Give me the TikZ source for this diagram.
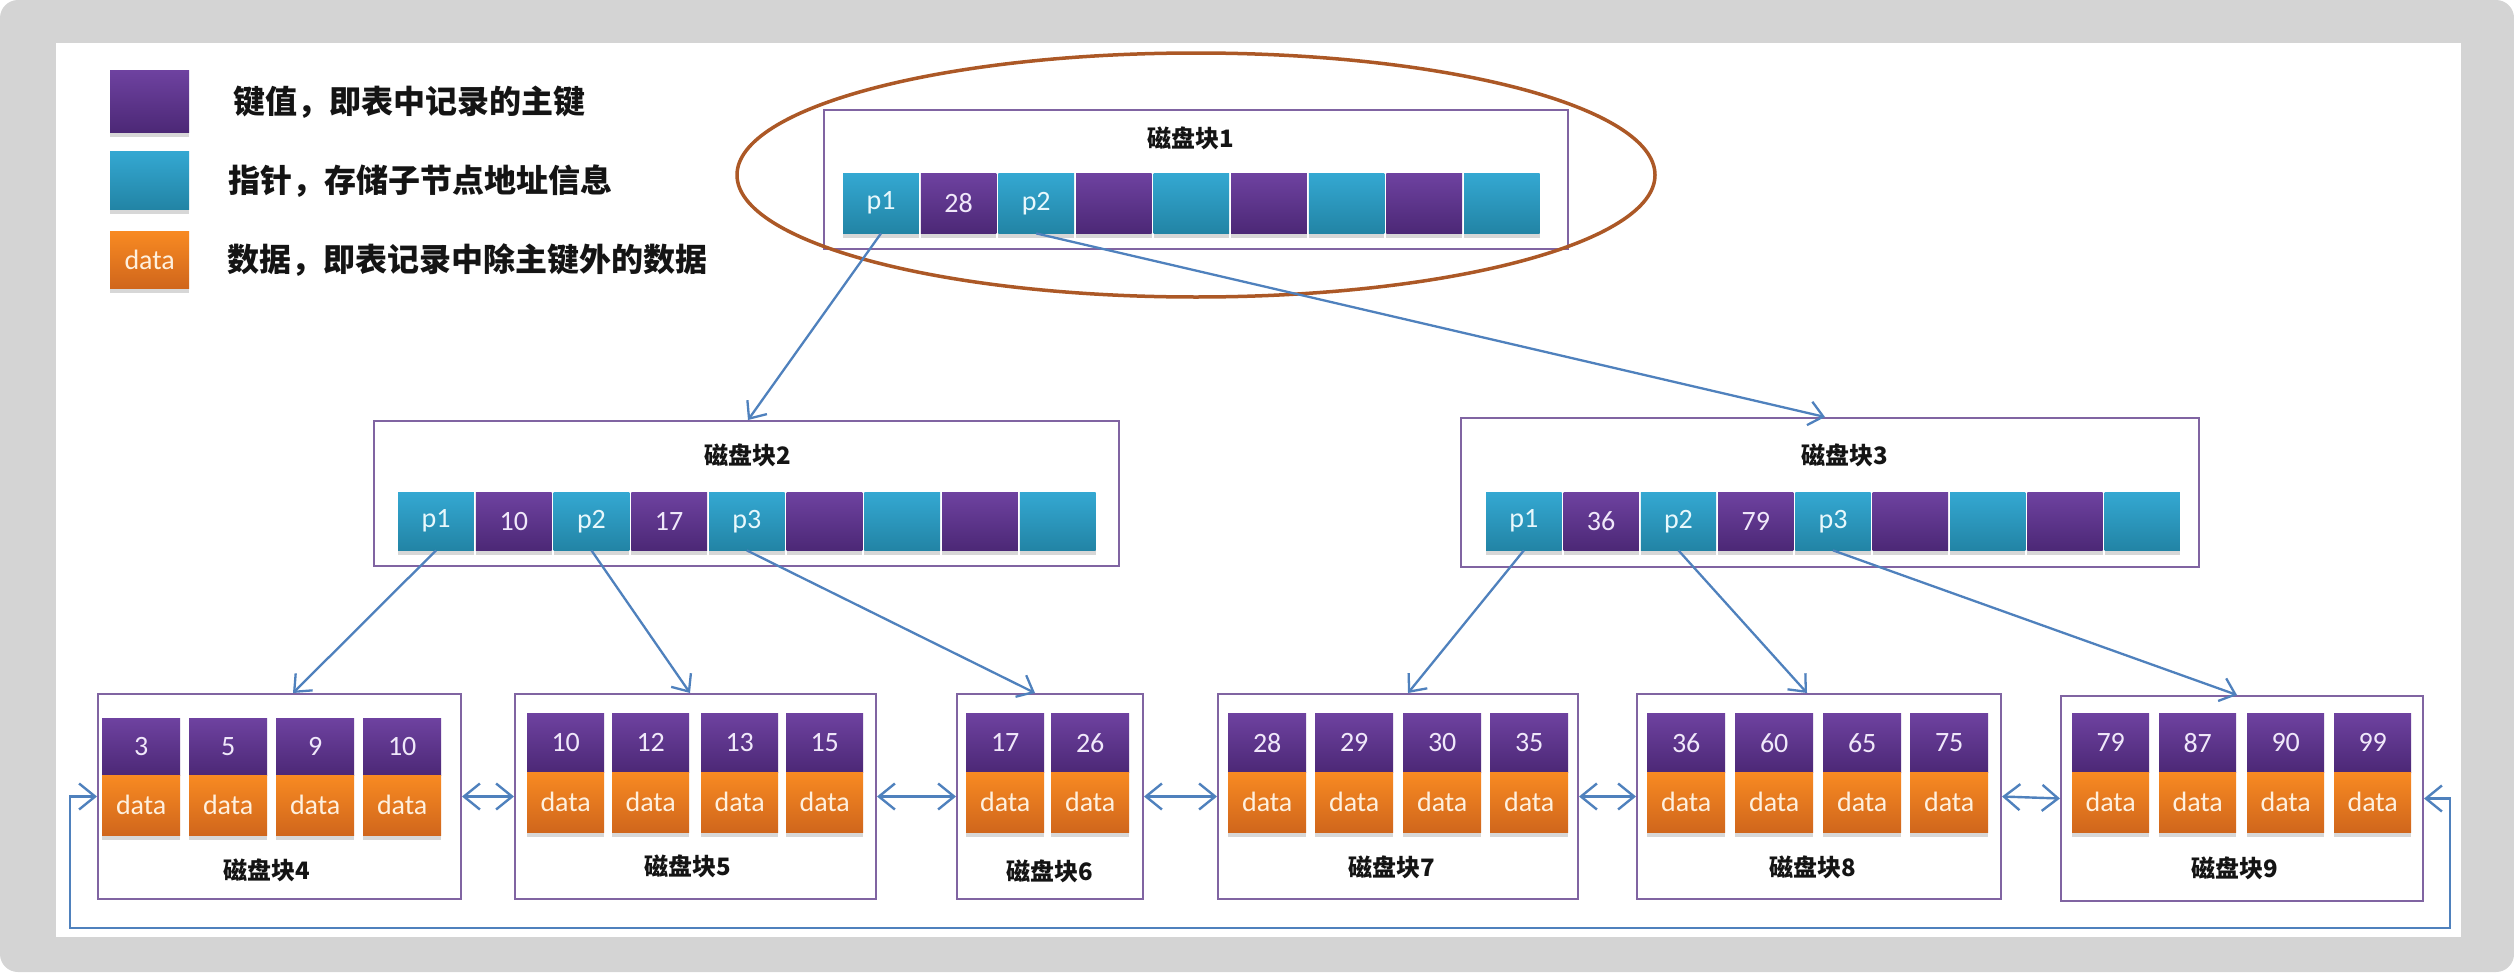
\documentclass[tikz,border=0pt]{standalone}
\usepackage{fontspec}
\newfontfamily\cjkfont{Noto Sans CJK SC}
\newfontfamily\calfont{Carlito}
\usetikzlibrary{arrows.meta,shadows,shapes.geometric}
\definecolor{bggray}{RGB}{212,212,212}
\definecolor{boxpurple}{RGB}{128,100,162}
\definecolor{keytop}{RGB}{110,66,160}
\definecolor{keybot}{RGB}{76,40,118}
\definecolor{ptrtop}{RGB}{52,168,210}
\definecolor{ptrbot}{RGB}{34,132,165}
\definecolor{dattop}{RGB}{248,138,34}
\definecolor{datbot}{RGB}{208,102,28}
\definecolor{keytext}{RGB}{240,232,250}
\definecolor{ptrtext}{RGB}{232,248,252}
\definecolor{dattext}{RGB}{254,240,222}
\definecolor{arrowblue}{RGB}{79,129,189}
\definecolor{ellbrown}{RGB}{172,88,38}
\definecolor{titletext}{RGB}{20,20,20}
\begin{document}
\begin{tikzpicture}[x=1pt,y=-1pt,
  cellbase/.style={anchor=north west, inner sep=0pt, minimum height=59pt,
    font=\calfont\fontsize{28}{28}\selectfont,
    drop shadow={shadow xshift=0pt,shadow yshift=-5pt,opacity=0.22,fill=black!70}},
  keyleaf/.style={cellbase, top color=keytop, bottom color=keybot, text=keytext, minimum width=78pt},
  dataleaf/.style={cellbase, top color=dattop, bottom color=datbot, text=dattext, minimum width=78pt, minimum height=60pt},
  block/.style={draw=boxpurple, line width=2pt, anchor=north west, inner sep=0pt},
  blocktitle/.style={font=\cjkfont\bfseries\fontsize{24}{24}\selectfont, text=titletext, inner sep=0pt},
  legtext/.style={anchor=west, inner sep=0pt, font=\cjkfont\bfseries\fontsize{32}{32}\selectfont, text=titletext},
  tree/.style={draw=arrowblue, line width=2.3pt, -{Straight Barb[length=14pt,width=24pt]}},
  link/.style={draw=arrowblue, line width=2.4pt, {Straight Barb[length=16pt,width=26pt]}-{Straight Barb[length=16pt,width=26pt]}},
]
\useasboundingbox (0,0) rectangle (2514,972);
\fill[white] (0,0) rectangle (2514,972);
\fill[bggray, rounded corners=18pt] (0,0) rectangle (2514,972);
\fill[white] (56,43) rectangle (2461,937);

% legend
\node[cellbase, top color=keytop, bottom color=keybot, minimum width=79pt, minimum height=62pt] (lk) at (110,70) {};
\node[cellbase, top color=ptrtop, bottom color=ptrbot, minimum width=79pt, minimum height=58pt] (lp) at (110,151) {};
\node[cellbase, top color=dattop, bottom color=datbot, text=dattext, minimum width=79pt, minimum height=57pt] (ld) at (110,231) {data};
\node[legtext] (lkt) at (233,102) {键值，即表中记录的主键};
\node[legtext] (lpt) at (228,181) {指针，存储子节点地址信息};
\node[legtext] (ldt) at (227,260) {数据，即表记录中除主键外的数据};

% blocks
\node[block, minimum width=744pt, minimum height=139pt] (box1) at (823,109) {};
\node[block, minimum width=745pt, minimum height=145pt] (box2) at (373,420) {};
\node[block, minimum width=738pt, minimum height=149pt] (box3) at (1460,417) {};
\node[block, minimum width=363pt, minimum height=205pt] (box4) at (97,693) {};
\node[block, minimum width=361pt, minimum height=205pt] (box5) at (514,693) {};
\node[block, minimum width=186pt, minimum height=205pt] (box6) at (956,693) {};
\node[block, minimum width=360pt, minimum height=205pt] (box7) at (1217,693) {};
\node[block, minimum width=364pt, minimum height=205pt] (box8) at (1636,693) {};
\node[block, minimum width=362pt, minimum height=205pt] (box9) at (2060,695) {};

% internal rows
\foreach [count=\i from 0] \t in {p1,28,p2,{},{},{},{},{},{}} {
  \ifodd\i \def\ctop{keytop}\def\cbot{keybot}\def\ctxt{keytext}\else\def\ctop{ptrtop}\def\cbot{ptrbot}\def\ctxt{ptrtext}\fi
  \node[cellbase, minimum width=75.6pt, minimum height=60pt, top color=\ctop, bottom color=\cbot, text=\ctxt] (a\i) at ({843+77.6*\i},173) {\t};
}
\foreach [count=\i from 0] \t in {p1,10,p2,17,p3,{},{},{},{}} {
  \ifodd\i \def\ctop{keytop}\def\cbot{keybot}\def\ctxt{keytext}\else\def\ctop{ptrtop}\def\cbot{ptrbot}\def\ctxt{ptrtext}\fi
  \node[cellbase, minimum width=75.7pt, minimum height=58pt, top color=\ctop, bottom color=\cbot, text=\ctxt] (b\i) at ({398+77.7*\i},492) {\t};
}
\foreach [count=\i from 0] \t in {p1,36,p2,79,p3,{},{},{},{}} {
  \ifodd\i \def\ctop{keytop}\def\cbot{keybot}\def\ctxt{keytext}\else\def\ctop{ptrtop}\def\cbot{ptrbot}\def\ctxt{ptrtext}\fi
  \node[cellbase, minimum width=75.3pt, minimum height=58pt, top color=\ctop, bottom color=\cbot, text=\ctxt] (c\i) at ({1486+77.3*\i},492) {\t};
}

% leaf rows
\foreach [count=\i] \xx/\k in {102/3,189/5,276/9,363/10} {
  \node[keyleaf, minimum height=57pt] (k4\i) at (\xx,718) {\k};
  \node[dataleaf] (v4\i) at (\xx,775) {data};
}
\foreach [count=\i] \xx/\k in {527/10,612/12,701/13,786/15} {
  \node[keyleaf, minimum width=77pt] (k5\i) at (\xx,713) {\k};
  \node[dataleaf, minimum width=77pt] (v5\i) at (\xx,772) {data};
}
\foreach [count=\i] \xx/\k in {966/17,1051/26} {
  \node[keyleaf] (k6\i) at (\xx,713) {\k};
  \node[dataleaf] (v6\i) at (\xx,772) {data};
}
\foreach [count=\i] \xx/\k in {1228/28,1315/29,1403/30,1490/35} {
  \node[keyleaf] (k7\i) at (\xx,713) {\k};
  \node[dataleaf] (v7\i) at (\xx,772) {data};
}
\foreach [count=\i] \xx/\k in {1647/36,1735/60,1823/65,1910/75} {
  \node[keyleaf] (k8\i) at (\xx,713) {\k};
  \node[dataleaf] (v8\i) at (\xx,772) {data};
}
\foreach [count=\i] \xx/\k in {2072/79,2159/87,2247/90,2334/99} {
  \node[keyleaf, minimum width=77pt] (k9\i) at (\xx,713) {\k};
  \node[dataleaf, minimum width=77pt] (v9\i) at (\xx,772) {data};
}

% titles
\node[blocktitle] (t1) at (1191,138) {磁盘块1};
\node[blocktitle] (t2) at (748,455) {磁盘块2};
\node[blocktitle] (t3) at (1845,455) {磁盘块3};
\node[blocktitle] (t4) at (267,870) {磁盘块4};
\node[blocktitle] (t5) at (688,866) {磁盘块5};
\node[blocktitle] (t6) at (1050,871) {磁盘块6};
\node[blocktitle] (t7) at (1392,867) {磁盘块7};
\node[blocktitle] (t8) at (1813,867) {磁盘块8};
\node[blocktitle] (t9) at (2235,868) {磁盘块9};

% highlight ellipse
\node[draw=ellbrown, line width=3.5pt, ellipse, inner sep=0pt, minimum width=918pt, minimum height=244pt] (ell) at (1196,175) {};

% tree pointers
\coordinate (e2) at (748,420);
\coordinate (e3) at (1825,417);
\coordinate (e4) at (293,693);
\coordinate (e5) at (690,693);
\coordinate (e6) at (1035,693);
\coordinate (e7) at (1408,693);
\coordinate (e8) at (1807,693);
\coordinate (e9) at (2237,695);
\draw[tree] (a0.south) -- (e2);
\draw[tree] (a2.south) -- (e3);
\draw[tree] (b0.south) -- (e4);
\draw[tree] (b2.south) -- (e5);
\draw[tree] (b4.south) -- (e6);
\draw[tree] (c0.south) -- (e7);
\draw[tree] (c2.south) -- (e8);
\draw[tree] (c4.south) -- (e9);

% leaf links
\draw[link] (box4.east) -- (box5.west);
\draw[link] (box5.east) -- (box6.west);
\draw[link] (box6.east) -- (box7.west);
\draw[link] (box7.east) -- (box8.west);
\draw[link] (box8.east) -- (box9.west);
\coordinate (loopL) at (70,928);
\coordinate (loopR) at (2450,928);
\draw[link] (box4.west) -| (loopL) -- (loopR) |- (box9.east);
\end{tikzpicture}
\end{document}
